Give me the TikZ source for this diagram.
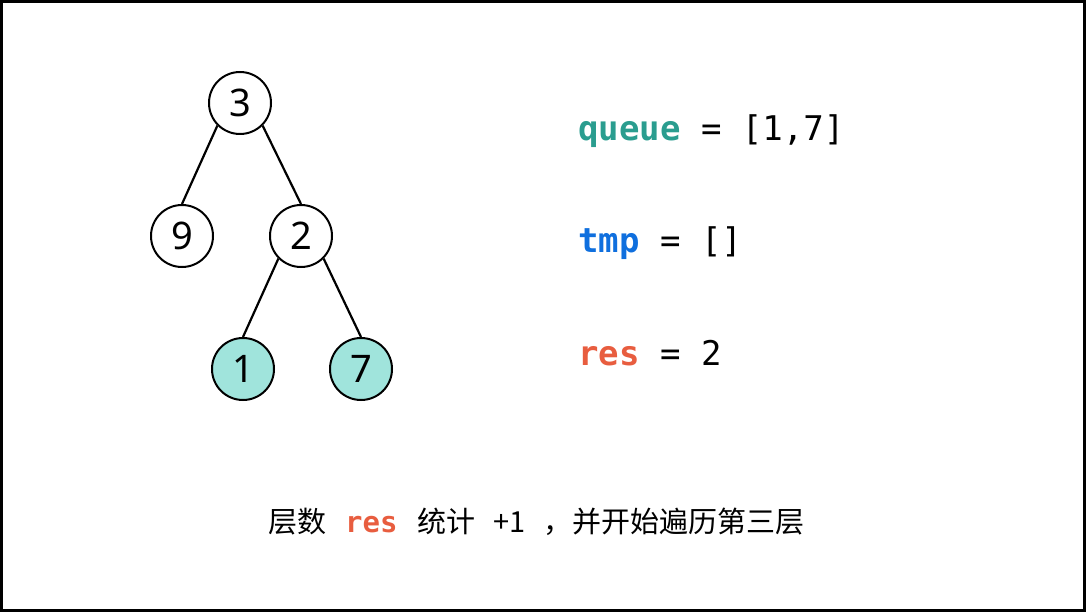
\documentclass[tikz,border=0pt]{standalone}
\usepackage{fontspec}
\setmainfont{Noto Sans}
\setmonofont{DejaVu Sans Mono}
\newfontfamily\cjk{Noto Sans CJK SC}
\definecolor{qteal}{HTML}{2A9D8F}
\definecolor{tblue}{HTML}{0F6FDE}
\definecolor{rred}{HTML}{E85D3F}
\definecolor{nfill}{HTML}{A0E4DC}
\tikzset{
  tnode/.style={circle,draw=black,line width=2pt,minimum size=62pt,inner sep=0pt,font=\fontsize{38}{44}\selectfont},
  hl/.style={tnode,fill=nfill},
  edge/.style={line width=2.2pt},
  codetxt/.style={anchor=base west,inner sep=0pt,font=\fontsize{34}{40}\selectfont\ttfamily},
}
\begin{document}
\begin{tikzpicture}[x=1pt,y=-1pt]
\useasboundingbox (0,0) rectangle (1086,612);
\draw[line width=3pt] (1.5,1.5) rectangle (1084.5,610.5);
\node[tnode] (n3) at (240,103) {3};
\node[tnode] (n9) at (182,236) {9};
\node[tnode] (n2) at (301,236) {2};
\node[hl] (n1) at (243,369) {1};
\node[hl] (n7) at (361,369) {7};
\draw[edge] (n3.-135) -- (n9.north);
\draw[edge] (n3.-45) -- (n2.north);
\draw[edge] (n2.-135) -- (n1.north);
\draw[edge] (n2.-45) -- (n7.north);
\node[codetxt] (q) at (578,141) {\textcolor{qteal}{\bfseries queue} = [1,7]};
\node[codetxt] (t) at (578,252) {\textcolor{tblue}{\bfseries tmp} = []};
\node[codetxt] (r) at (578,365) {\textcolor{rred}{\bfseries res} = 2};
\node[anchor=base west,inner sep=0pt,font=\fontsize{29}{34}\selectfont\cjk] (cap) at (268,532)
  {层数\hspace{19pt}{\ttfamily\bfseries\color{rred}res}\hspace{20pt}统计\hspace{18pt}+1\hspace{18pt}，并开始遍历第三层};
\end{tikzpicture}
\end{document}
